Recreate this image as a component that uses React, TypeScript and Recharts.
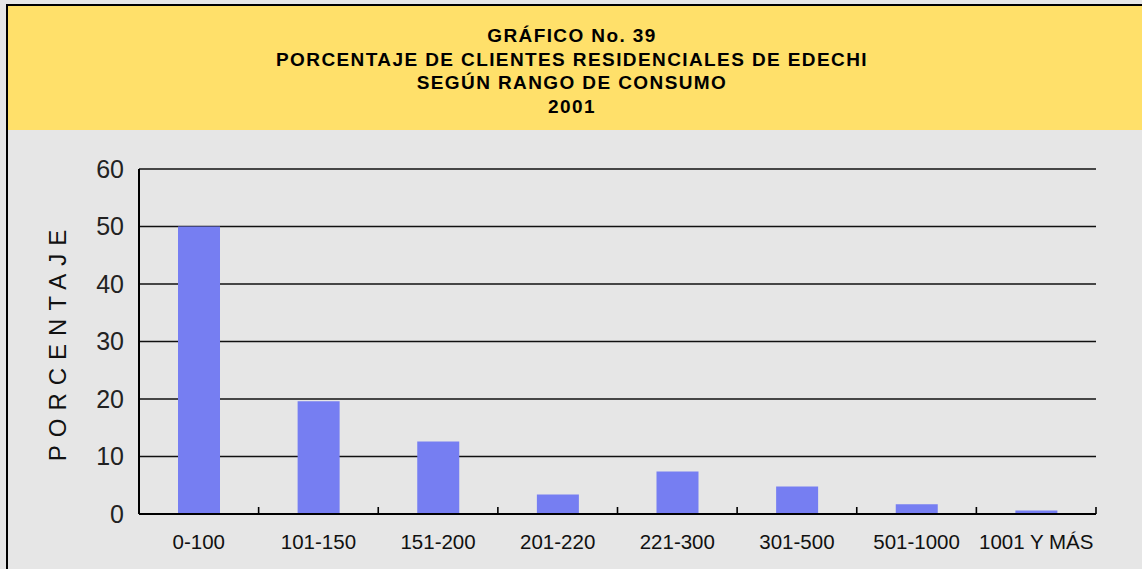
import React from "react";
import { BarChart, Bar, XAxis, YAxis, CartesianGrid } from "recharts";

const categories = [
  "0-100",
  "101-150",
  "151-200",
  "201-220",
  "221-300",
  "301-500",
  "501-1000",
  "1001 Y MÁS",
];
const percentages = [50.0, 19.6, 12.6, 3.4, 7.4, 4.8, 1.7, 0.6];
const yTicks = [0, 10, 20, 30, 40, 50, 60];
const titleLines = [
  "GRÁFICO No. 39",
  "PORCENTAJE DE CLIENTES RESIDENCIALES DE EDECHI",
  "SEGÚN RANGO DE CONSUMO",
  "2001",
];

const data = categories.map((rango, i) => ({ rango, porcentaje: percentages[i] }));

const W = 1142;
const H = 569;
const PLOT_LEFT = 139;
const PLOT_RIGHT = 1096;
const PLOT_TOP = 169;
const PLOT_BOTTOM = 514;
const BAND = (PLOT_RIGHT - PLOT_LEFT) / categories.length;
const FONT = '"Liberation Sans", Arial, Helvetica, sans-serif';

const XTick = (props: any) => {
  const { x, y, payload } = props;
  const bx = x + BAND / 2;
  return (
    <g>
      <text
        x={x}
        y={y + 27}
        textAnchor="middle"
        dominantBaseline="central"
        fontSize={20.5}
        fontFamily={FONT}
        fill="#111"
      >
        {payload.value}
      </text>
      <line x1={bx} x2={bx} y1={y} y2={y - 7} stroke="#000" strokeWidth={1.6} />
    </g>
  );
};

const YLabel = (props: any) => {
  const vb = props.viewBox || { y: PLOT_TOP, height: PLOT_BOTTOM - PLOT_TOP };
  const cy = vb.y + vb.height / 2;
  const cx = 57;
  return (
    <text
      x={cx}
      y={cy}
      transform={`rotate(-90, ${cx}, ${cy})`}
      textAnchor="middle"
      dominantBaseline="central"
      fontSize={24}
      fontFamily={FONT}
      letterSpacing={8}
      fill="#111"
    >
      PORCENTAJE
    </text>
  );
};

export default function App() {
  const yAxisWidth = 80;
  const xAxisHeight = 50;
  return (
    <div
      style={{
        position: "absolute",
        left: 0,
        top: 0,
        width: W,
        height: H,
        overflow: "hidden",
        background: "#E6E6E6",
        fontFamily: FONT,
      }}
    >
      <div
        style={{
          position: "absolute",
          left: 6,
          top: 4,
          width: W + 20,
          height: H + 20,
          border: "2px solid #000",
        }}
      />
      <div
        style={{
          position: "absolute",
          left: 8,
          top: 6,
          width: W,
          height: 124,
          background: "#FFE06A",
        }}
      />
      <div
        style={{
          position: "absolute",
          left: 8,
          top: 24,
          width: W - 8 - 6,
          textAlign: "center",
          fontWeight: "bold",
          fontSize: 19,
          lineHeight: "23.5px",
          letterSpacing: 1.4,
          color: "#000",
        }}
      >
        {titleLines.map((t) => (
          <div key={t}>{t}</div>
        ))}
      </div>
      <div style={{ position: "absolute", left: 0, top: 0 }}>
        <BarChart
          width={W}
          height={H}
          data={data}
          barSize={42}
          margin={{
            top: PLOT_TOP,
            right: W - PLOT_RIGHT,
            left: PLOT_LEFT - yAxisWidth,
            bottom: H - PLOT_BOTTOM - xAxisHeight,
          }}
        >
          <CartesianGrid vertical={false} stroke="#111" strokeWidth={1.3} />
          <XAxis
            dataKey="rango"
            height={xAxisHeight}
            axisLine={{ stroke: "#000", strokeWidth: 2 }}
            tickLine={false}
            tickSize={0}
            tickMargin={0}
            interval={0}
            tick={<XTick />}
          />
          <YAxis
            width={yAxisWidth}
            domain={[0, 60]}
            ticks={yTicks}
            interval={0}
            axisLine={{ stroke: "#000", strokeWidth: 2 }}
            tickLine={false}
            tickSize={0}
            tickMargin={15}
            tick={{ fontSize: 25, fill: "#222", fontFamily: FONT }}
            label={<YLabel />}
          />
          <Bar dataKey="porcentaje" fill="#767EF2" isAnimationActive={false} />
        </BarChart>
      </div>
    </div>
  );
}
